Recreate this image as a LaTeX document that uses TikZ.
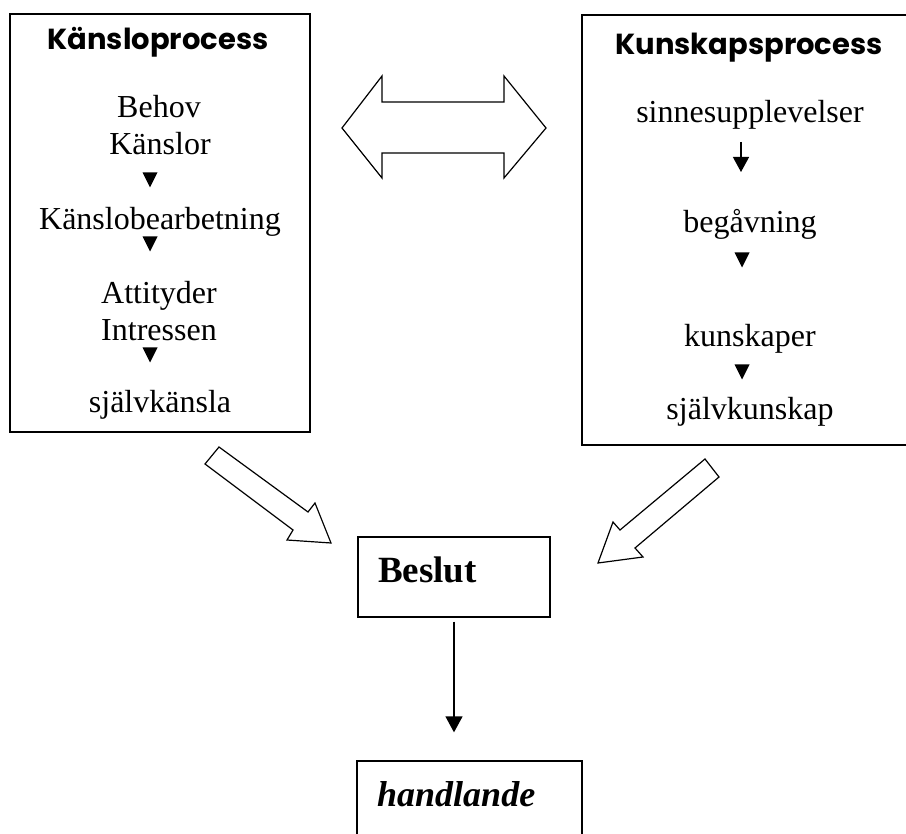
\documentclass[tikz,border=0pt]{standalone}
\usepackage{fontspec}
\setmainfont{Liberation Serif}
\newfontfamily\titlefont{Poppins}
\usetikzlibrary{arrows.meta}
\begin{document}
\begin{tikzpicture}[x=1pt,y=-1pt,
  box/.style={draw, line width=1.5pt, inner sep=0pt},
  smallbox/.style={draw, line width=1.3pt, inner sep=0pt},
  txt/.style={anchor=base, inner sep=0pt, font=\fontsize{32}{38}\selectfont},
  ttl/.style={anchor=base, inner sep=0pt, font=\titlefont\bfseries\fontsize{29}{35}\selectfont},
  blockarrow/.style={draw, line width=1.2pt, line join=miter, fill=white},
  downtri/.pic={\fill (-7.5,-7.5) -- (7.5,-7.5) -- (0,7.5) -- cycle;},
  flowarrow/.style={line width=1.3pt, -{Triangle[width=17pt,length=16pt]}}
]
\useasboundingbox (0,0) rectangle (906,834);

% boxes
\node[box, minimum width=300pt, minimum height=418pt] (kansla) at (160,223) {};
\node[box, minimum width=338pt, minimum height=430pt] (kunskap) at (751,230) {};
\node[smallbox, minimum width=192pt, minimum height=80pt] (beslut) at (454,577) {};
\node[smallbox, minimum width=225pt, minimum height=89pt] (handlande) at (469.5,805.5) {};

% titles
\node[ttl] (t1) at (158,50) {Känsloprocess};
\node[ttl] (t2) at (749,55) {Kunskapsprocess};

% left column
\node[txt] (behov) at (159,118) {Behov};
\node[txt] (kanslor) at (160,155) {Känslor};
\pic at (150,180) {downtri};
\node[txt] (bearb) at (160,230) {Känslobearbetning};
\pic at (150,244) {downtri};
\node[txt] (attityder) at (159,304) {Attityder};
\node[txt] (intressen) at (159,341) {Intressen};
\pic at (150,355) {downtri};
\node[txt] (sjalvk) at (160,413) {självkänsla};

% right column
\node[txt] (sinne) at (750,123) {sinnesupplevelser};
\coordinate (a1) at (741,142);
\coordinate (a2) at (741,172);
\draw[line width=1.3pt, -{Triangle[width=16pt,length=15pt]}] (a1) -- (a2);
\node[txt] (begavning) at (750,233) {begåvning};
\pic at (742,260) {downtri};
\node[txt] (kunskaper) at (750,347) {kunskaper};
\pic at (742,372) {downtri};
\node[txt] (sjalvkun) at (750,420) {självkunskap};

% bottom texts
\node[anchor=base west, inner sep=0pt, font=\bfseries\fontsize{37}{44}\selectfont] (beslutt) at (378,583) {Beslut};
\node[anchor=base west, inner sep=0pt, font=\bfseries\itshape\fontsize{36}{43}\selectfont] (handt) at (377,806) {handlande};

% block arrows
\draw[blockarrow] (342,128) -- (382,76) -- (382,102) -- (504,102) -- (504,76) -- (546,128)
  -- (504,178) -- (504,153) -- (382,153) -- (382,178) -- cycle;
\draw[blockarrow] (205,464) -- (219,447) -- (308,512) -- (315,503) -- (331,543)
  -- (287,540) -- (293,530) -- cycle;
\draw[blockarrow] (705,459) -- (719,477) -- (635,548) -- (643,557) -- (598,563)
  -- (613,522) -- (620,530) -- cycle;

% flow arrow
\draw[flowarrow, shorten <=4pt, shorten >=28pt] (beslut.south) -- (beslut.south |- handlande.north);
\end{tikzpicture}
\end{document}
